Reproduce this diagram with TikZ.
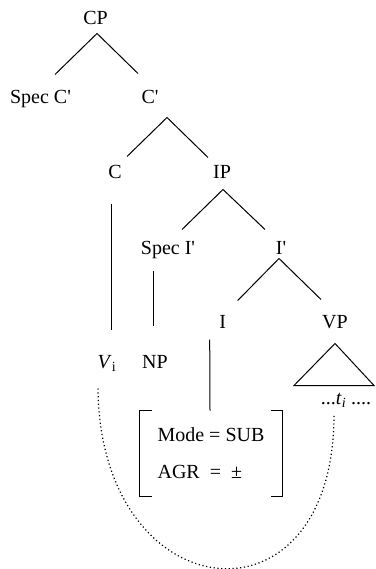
\documentclass[tikz,border=0pt]{standalone}
\usepackage{fontspec}
\setmainfont{Liberation Serif}
\usetikzlibrary{arrows}
\newcommand{\prm}{\textquotesingle}

\begin{document}
\begin{tikzpicture}[x=1pt, y=-1pt, line width=1pt,
  cat/.style={font=\fontsize{20}{24}\selectfont, anchor=base, inner sep=0pt, text height=13pt, text depth=0pt}]
  \useasboundingbox (0,0) rectangle (375,569);
  \node[cat] (CP)    at (95.5,25)   {CP};
  \node[cat] (SpecC) at (40.5,104)  {Spec C\prm};
  \node[cat] (Cbar)  at (150,104)   {C\prm};
  \node[cat] (C)     at (115,178.5) {C};
  \node[cat] (IP)    at (222,178.5) {IP};
  \node[cat] (SpecI) at (168,254.5) {Spec I\prm};
  \node[cat] (Ibar)  at (281,254.5) {I\prm};
  \node[cat] (I)     at (222.7,328.5) {I};
  \node[cat] (VP)    at (335,328.5) {VP};
  \node[cat] (Vi)    at (107,368.5) {\textit{V}\textsubscript{i}};
  \node[cat] (NP)    at (155,368.5) {NP};
  \node[cat] (trace) at (346,404)   {...\textit{t}\textsubscript{\textit{i}} ....};
  \node[font=\fontsize{20}{37}\selectfont, align=left, inner sep=0pt,
        minimum width=142pt, minimum height=85pt] (feat) at (211,453.5)
        {Mode = SUB\\AGR\ \ = \ ±};
  \path
  ([xshift=1.5pt,yshift=-8pt]CP.south) edge ([xshift=14.5pt,yshift=16pt]SpecC.north)
                                       edge ([xshift=-12pt,yshift=17pt]Cbar.north)
  ([xshift=17pt,yshift=-13pt]Cbar.south) edge ([xshift=12pt,yshift=8.5pt]C.north)
                                         edge ([xshift=-14pt,yshift=7.5pt]IP.north)
  ([xshift=1pt,yshift=-10.5pt]IP.south) edge ([xshift=14pt,yshift=11.5pt]SpecI.north)
                                        edge ([xshift=-16pt,yshift=11.5pt]Ibar.north)
  ([xshift=-2pt,yshift=-3.5pt]Ibar.south) edge ([xshift=15pt,yshift=14.5pt]I.north)
                                          edge ([xshift=-14pt,yshift=15.5pt]VP.north)
  ([xshift=-4pt,yshift=-24.5pt]C.south) edge ([xshift=4pt,yshift=25.5pt]Vi.north)
  ([xshift=-15pt,yshift=-15.5pt]SpecI.south) edge ([xshift=-2pt,yshift=29.5pt]NP.north)
  ([xshift=-13pt,yshift=-10.5pt]I.south) edge ([xshift=-1pt]feat.north)
  ;
  % VP triangle
  \draw ([yshift=-14.5pt]VP.south) -- ++(-41,42) -- ++(80,0) -- cycle;
  % feature brackets
  \draw ([xshift=12pt]feat.north west) -- (feat.north west) -- (feat.south west) -- ++(12,0);
  \draw ([xshift=-12pt]feat.north east) -- (feat.north east) -- (feat.south east) -- ++(-12,0);
  % movement link
  \draw[line width=1.2pt, dash pattern=on 1.2pt off 2.6pt]
    ([xshift=-9pt,yshift=-19.5pt]Vi.south) .. controls +(2,223) and +(1,223) .. ([xshift=-12pt,yshift=-9pt]trace.south);
\end{tikzpicture}
\end{document}
